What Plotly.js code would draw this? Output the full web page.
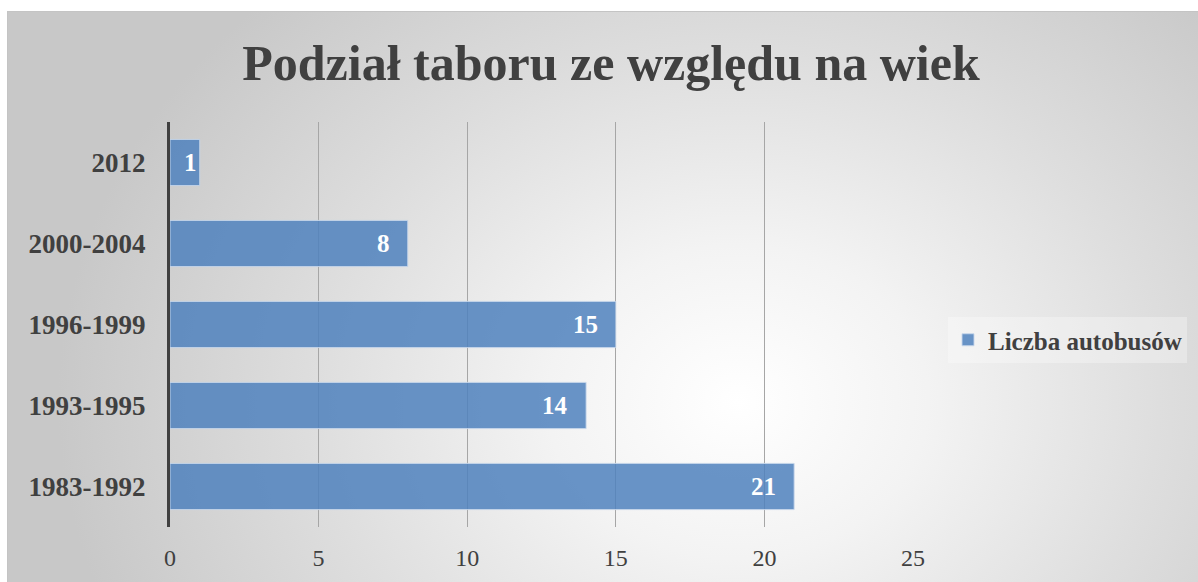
<!DOCTYPE html>
<html>
<head>
<meta charset="utf-8">
<script src="https://cdn.plot.ly/plotly-3.0.1.min.js"></script>
<style>
html,body{margin:0;padding:0;width:1198px;height:582px;overflow:hidden;background:#fff;}
#bg{position:absolute;left:7px;top:11px;width:1200px;height:580px;border-top:1px solid #c4c4c4;border-left:1px solid #c4c4c4;
background:radial-gradient(ellipse 680px 560px at 730px 390px,#ffffff 0%,#f3f3f3 28%,#dedede 62%,#c8c8c8 100%);}
#chart{position:absolute;left:0;top:0;width:1198px;height:582px;}
</style>
</head>
<body>
<div id="bg"></div>
<div id="chart"></div>
<script>
const categories = ["1983-1992","1993-1995","1996-1999","2000-2004","2012"];
const values = [21,14,15,8,1];
const seriesName = "Liczba autobusów";
const titleText = "Podział taboru ze względu na wiek";
const xTicks = [0,5,10,15,20,25];

const serif = "'Liberation Serif', 'DejaVu Serif', serif";
const plotW = 1198 - 170 - 285;
const xMax = 25;
const trace = {
  type: 'bar', orientation: 'h',
  x: values, y: categories, name: seriesName,
  hoverinfo: 'none',
  marker: {color: 'rgba(79,129,189,0.85)', line: {color: 'rgba(200,215,235,0.9)', width: 1}},
  showlegend: true
};
const annotations = values.map((v, i) => {
  const px = v * plotW / xMax;
  return {
    x: v, y: categories.indexOf(categories[i]), xref: 'x', yref: 'y', text: '<b>' + v + '</b>',
    showarrow: false, xanchor: 'right', yanchor: 'middle', xshift: px < 60 ? -1 : -16,
    font: {family: serif, size: 25, color: '#ffffff'}
  };
});
const layout = {
  width: 1198, height: 582,
  paper_bgcolor: 'rgba(0,0,0,0)', plot_bgcolor: 'rgba(0,0,0,0)',
  margin: {l: 170, r: 285, t: 122, b: 55},
  bargap: 0.43,
  annotations: annotations,
  title: {text: '<b>' + titleText + '</b>', font: {family: serif, size: 50, color: '#404040'},
          x: 611/1198, xanchor: 'center', xref: 'container', y: 1 - 62/582, yanchor: 'middle', yref: 'container'},
  xaxis: {range: [0, xMax], autorange: false, tickvals: xTicks, ticktext: xTicks.map(String), showgrid: true, gridcolor: '#a6a6a6', gridwidth: 1,
          zeroline: false, showline: false, ticks: '', ticklabelstandoff: 14,
          tickfont: {family: serif, size: 24, color: '#404040'}, fixedrange: true},
  yaxis: {type: 'category', categoryorder: 'array', categoryarray: categories, range: [-0.5, categories.length - 0.5], autorange: false,
          showgrid: false, zeroline: false,
          showline: true, linecolor: '#404040', linewidth: 3, ticks: '', ticklabelstandoff: 16,
          tickfont: {family: serif, size: 27, color: '#404040', weight: 'bold'}},
  legend: {xref: 'container', yref: 'container', x: 948/1198, y: 1 - 340/582, xanchor: 'left', yanchor: 'middle',
           bgcolor: 'rgba(255,255,255,0.3)', font: {family: serif, size: 25, color: '#404040', weight: 'bold'},
           itemwidth: 30}
};
Plotly.newPlot('chart', [trace], layout, {displayModeBar: false, staticPlot: true});
</script>
</body>
</html>
